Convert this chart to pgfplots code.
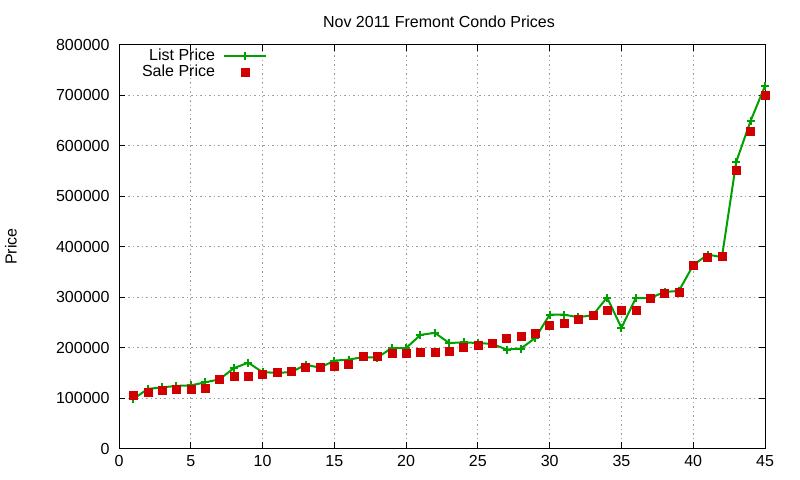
\documentclass[border=0pt]{standalone}
\usepackage{pgfplots}
\pgfplotsset{compat=1.18}
\usepackage{fontspec}
\setmainfont{Liberation Sans}
\definecolor{listgreen}{RGB}{0,160,0}
\definecolor{salered}{RGB}{208,0,0}

\pgfplotstableread{
n  list    sale
1  98000   105000
2  118000  112000
3  121000  115000
4  124000  117000
5  125000  117000
6  131000  120000
7  137000  137000
8  159000  143000
9  170000  143000
10 151000  147000
11 150000  151000
12 151000  153000
13 166000  161000
14 160000  161000
15 174000  163000
16 176000  167000
17 181000  183000
18 180000  183000
19 199000  189000
20 199000  189000
21 225000  191000
22 229000  191000
23 209000  193000
24 210000  201000
25 209000  205000
26 207000  209000
27 196000  219000
28 198000  223000
29 219000  229000
30 265000  244000
31 265000  248000
32 260000  256000
33 264000  264000
34 299000  274000
35 239000  274000
36 298000  274000
37 298000  298000
38 310000  308000
39 312000  310000
40 363000  363000
41 384000  379000
42 379000  381000
43 568000  552000
44 649000  629000
45 718000  699000
}\condos

\begin{document}
\begin{tikzpicture}
\path[use as bounding box] (0,0) rectangle (800bp,480bp);
\begin{axis}[
    at={(119bp,31.5bp)}, anchor=south west,
    scale only axis, width=646bp, height=404bp,
    xmin=0, xmax=45, ymin=0, ymax=800000,
    xtick={0,5,...,45},
    ytick={0,100000,...,800000},
    scaled y ticks=false,
    font=\fontsize{16bp}{19bp}\selectfont,
    /pgf/number format/assume math mode=true,
    yticklabel style={/pgf/number format/fixed, /pgf/number format/set thousands separator={}, xshift=-6bp},
    xticklabel style={yshift=-3bp},
    tick align=inside,
    major tick length=6bp,
    every tick/.style={black, line width=1bp},
    axis line style={black, line width=1bp},
    grid=major,
    major grid style={gray!75, dash pattern=on 1.5bp off 3bp, line width=0.8bp},
    title={Nov 2011 Fremont Condo Prices},
    title style={yshift=7bp, xshift=-3bp},
    ylabel={Price},
    ylabel style={at={(axis description cs:-0.1672,0.5)}, anchor=center},
    clip=false,
    legend plot pos=right,
    legend cell align=right,
    legend style={draw=none, fill=none, inner sep=0pt, outer sep=0pt,
        at={(axis description cs:0.2291,0.9896)}, anchor=north east,
        column sep=8bp, row sep=0pt,
        nodes={inner sep=0pt, text height=12bp, text depth=4bp}},
]
\addplot[color=listgreen, line width=2bp, mark=+, mark size=4bp,
    legend image code/.code={
        \draw[listgreen, line width=2bp] (0bp,1bp) -- (42bp,1bp);
        \draw[listgreen, line width=2bp] (17bp,1bp) -- (25bp,1bp) (21bp,-3bp) -- (21bp,5bp);}]
    table[x=n, y=list] {\condos};
\addlegendentry{List Price}
\addplot[only marks, mark=square*, mark size=4bp, color=salered, fill=salered,
    legend image code/.code={
        \fill[salered] (17bp,-3bp) rectangle (25bp,5bp);}]
    table[x=n, y=sale] {\condos};
\addlegendentry{Sale Price}
\end{axis}
\end{tikzpicture}
\end{document}
